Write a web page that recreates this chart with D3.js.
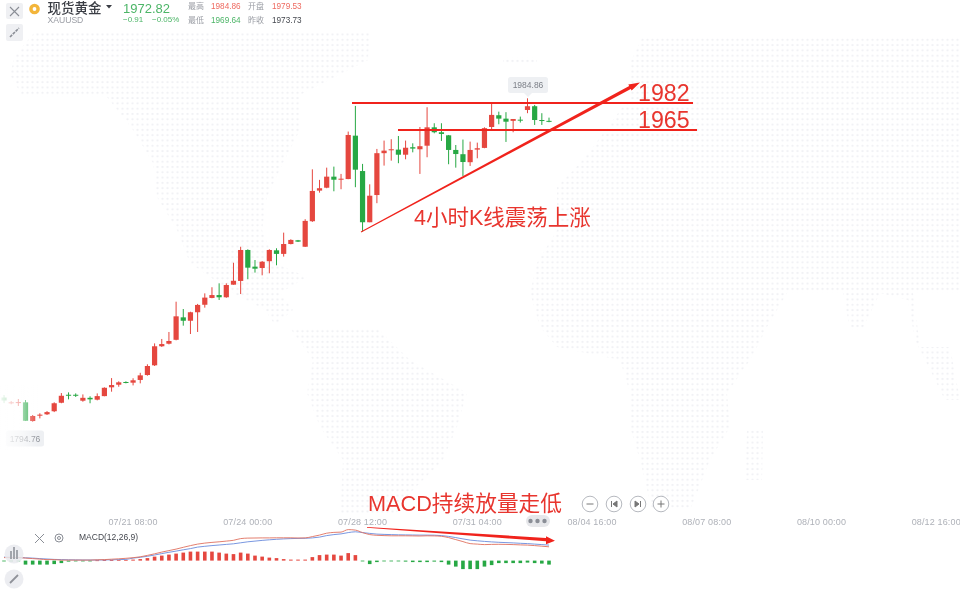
<!DOCTYPE html>
<html><head><meta charset="utf-8">
<style>
html,body{margin:0;padding:0;background:#fff;overflow:hidden}
svg{display:block;filter:blur(0.35px)}
text{font-family:"Liberation Sans","Noto Sans CJK SC",sans-serif}
</style>
<script src="https://cdn.jsdelivr.net/npm/d3@7"></script>
</head><body>
<svg id="c" width="960" height="589"></svg>
<script>
const opens=[1808.97,1805.7,1805.7,1806.15,1795.15,1798.3,1799.1,1800.9,1805.9,1810.6,1810.6,1807.1,1808.8,1807.7,1809.8,1814.97,1816.5,1818.1,1817.7,1819.3,1822.2,1827.9,1839.1,1840.6,1842.9,1856.1,1854.1,1859.1,1863.5,1867.5,1869.2,1867.9,1875.3,1877.5,1895.7,1885.9,1885.1,1889.1,1895.5,1893.4,1899.2,1901.4,1897.6,1912.6,1930.6,1932.3,1938.8,1937.3,1937.4,1962.9,1942.1,1912.0,1928.0,1952.6,1954.3,1954.7,1951.7,1956.1,1954.9,1957.0,1967.8,1964.9,1963.1,1954.5,1952.0,1947.3,1954.7,1955.7,1968.0,1974.9,1972.9,1971.6,1972.3,1978.0,1980.2,1972.1,1971.6];
const closes=[1807.2,1806.15,1806.3,1795.3,1798.1,1798.9,1800.4,1805.6,1810.0,1810.3,1810.0,1808.8,1807.9,1809.8,1814.7,1816.3,1817.9,1817.7,1819.1,1822.0,1827.5,1839.1,1840.4,1842.2,1856.7,1854.1,1859.1,1863.4,1867.7,1869.2,1867.9,1875.1,1877.6,1895.7,1885.3,1884.7,1888.8,1895.7,1893.4,1899.2,1901.6,1900.6,1912.8,1930.4,1932.0,1938.8,1937.0,1937.6,1963.3,1942.9,1912.0,1927.6,1952.6,1954.1,1954.9,1951.7,1955.8,1955.3,1956.7,1967.8,1964.9,1963.9,1954.5,1952.1,1947.4,1954.5,1955.5,1967.3,1975.1,1972.9,1971.1,1972.7,1971.9,1980.2,1972.1,1971.7,1971.4];
const highs=[1810.4,1806.9,1808.1,1807.5,1798.7,1799.7,1801.0,1806.15,1811.6,1812.0,1811.4,1810.8,1809.7,1811.4,1814.97,1820.4,1818.5,1818.5,1820.3,1823.5,1828.5,1840.8,1843.4,1847.5,1865.3,1861.0,1859.4,1864.0,1870.2,1873.8,1876.1,1876.1,1888.2,1897.6,1896.1,1889.8,1889.2,1896.1,1896.7,1905.9,1902.0,1901.6,1913.8,1943.1,1936.9,1944.1,1944.7,1940.4,1965.3,1980.4,1946.3,1934.3,1955.1,1960.0,1960.8,1962.7,1960.0,1958.4,1968.0,1979.6,1970.2,1970.2,1963.3,1957.4,1960.6,1959.4,1958.8,1967.8,1981.96,1977.0,1976.7,1972.7,1974.1,1984.86,1980.96,1976.1,1973.5];
const lows=[1805.7,1805.0,1804.0,1795.15,1794.76,1796.7,1798.7,1800.4,1805.6,1807.9,1809.3,1806.5,1805.6,1807.3,1809.7,1812.4,1815.3,1817.3,1816.1,1817.3,1821.8,1827.5,1838.7,1840.2,1842.6,1851.2,1846.3,1847.5,1861.8,1867.3,1866.3,1867.6,1875.3,1869.8,1878.5,1882.4,1880.8,1882.0,1886.7,1891.8,1899.0,1900.4,1897.5,1912.2,1929.4,1932.0,1930.2,1931.4,1937.3,1932.6,1906.5,1912.0,1923.2,1945.3,1948.2,1946.7,1949.0,1953.1,1940.4,1950.2,1964.3,1959.8,1946.1,1944.1,1939.2,1945.1,1949.6,1955.5,1965.7,1969.6,1959.2,1964.9,1970.6,1976.1,1969.2,1969.2,1970.8];
const macdLine=[3,3,3,2.5,2,1.5,1,1,0.5,0.5,0.5,0.5,0.5,0.8,1,1.4,1.8,2.3,2.9,3.8,5.2,6.8,8.5,10,11.5,13.3,15,16.5,17.5,18.2,18.8,19.5,20.3,22,22.5,22.6,22.7,22.7,22.8,22.8,22.8,22.6,22.7,24,25.5,27.4,28.2,28.5,31,30.5,28,26,25.3,25,24.8,24.8,24.8,24.7,24.6,24.8,24.7,24.3,23,21,19,17,16.5,16,16.2,16.3,16.2,16,15.7,15.5,15,14.4,13.8];
const signalLine=[3.5,3.3,3,2.8,2.5,2,1.6,1.2,1,0.8,0.7,0.6,0.6,0.6,0.7,0.8,1,1.2,2.5,3.3,4.3,5.6,7,8.3,9.5,10.8,12,13.5,14.3,15,15.6,16.2,16.8,17.8,18.8,19.5,20.2,20.8,21.3,21.7,22,22.2,22.3,22.7,23.5,25,26,26.7,28,28.8,28,27.2,26.5,26.2,26,25.8,25.7,25.6,25.5,25.5,25.4,25,24.2,23,21.7,20.5,19.8,19.2,18.7,18.3,18,17.7,17.3,17,16.5,16,15.5];
const histogram=[-0.5,-0.5,-0.5,-4,-4,-4,-4,-3.5,-2.5,-1,-0.4,-0.3,-0.3,0.3,0.5,0.5,0.7,0.7,1,1.5,2.5,4,5,6,7,8,9,9,9,9,8,7,6.5,8,7,5,4,3,2.5,1.5,1,1,1,3.5,5.5,6,6,5,7.5,5.5,-0.5,-3.5,-1.5,-0.7,-0.7,-0.7,-1,-1.5,-1.5,-1.5,-1,-1.5,-4,-6,-8.5,-8.5,-8.5,-6,-4.5,-2.5,-2.5,-2.5,-2.5,-2,-2.5,-3,-4];
const axisLabels=["07/21 08:00","07/24 00:00","07/28 12:00","07/31 04:00","08/04 16:00","08/07 08:00","08/10 00:00","08/12 16:00"];
const axisSlots=[18,34,50,66,82,98,114,130];
const headerTitle="现货黄金", headerSymbol="XAUUSD", lastPrice="1972.82", change="−0.91", changePct="−0.05%";
const statLabels=["最高","开盘","最低","昨收"], statValues=["1984.86","1979.53","1969.64","1973.73"];
const levelLabels=[1982,1965];

const UP="#e5473f", DOWN="#27a844";
const svg=d3.select("#c");
const x=d3.scaleLinear().domain([0,76]).range([4,549]);
const y=d3.scaleLinear().domain([1794.76,1984.86]).range([421.7,98.3]);
const ym=d3.scaleLinear().domain([0,31]).range([560.6,529.6]);

// dotted world map background
const defs=svg.append("defs");
const pat=defs.append("pattern").attr("id","dots").attr("width",5).attr("height",5.3).attr("patternUnits","userSpaceOnUse");
pat.append("circle").attr("cx",2.5).attr("cy",2.6).attr("r",1.15).attr("fill","#f1f2f5");
const grad=defs.append("linearGradient").attr("id","fade");
grad.append("stop").attr("offset",0).attr("stop-color","#fff").attr("stop-opacity",.92);
grad.append("stop").attr("offset",.6).attr("stop-color","#fff").attr("stop-opacity",.55);
grad.append("stop").attr("offset",1).attr("stop-color","#fff").attr("stop-opacity",0);
const mapShapes=[
 // North America
 [[15,55],[35,32],[370,32],[368,60],[300,95],[300,130],[283,163],[267,197],[262,230],[275,263],[307,277],[280,293],[293,310],[275,325],[265,310],[233,293],[190,263],[177,230],[157,197],[153,163],[133,130],[107,97],[50,97],[23,97],[10,75]],
 // South America
 [[290,328],[377,328],[410,360],[467,393],[457,427],[443,460],[410,493],[395,515],[340,515],[343,460],[320,427],[307,393],[313,360]],
 // Iceland
 [[503,57],[537,57],[537,64],[503,64]],
 // Eurasia and Africa
 [[643,36],[960,36],[960,293],[913,293],[920,347],[950,347],[960,400],[945,400],[915,340],[908,300],[880,293],[862,330],[850,330],[843,293],[787,293],[767,327],[757,347],[750,360],[727,393],[730,427],[710,460],[697,493],[690,510],[652,510],[640,460],[630,427],[630,393],[620,360],[557,347],[540,327],[530,293],[537,263],[557,230],[557,187],[580,163],[593,147],[630,97],[630,63]],
 // Madagascar
 [[747,430],[763,430],[762,480],[745,480]]
];
svg.append("g").selectAll("path").data(mapShapes).join("path")
 .attr("d",d=>d3.line()(d)+"Z").attr("fill","url(#dots)");

// candles
const g=svg.append("g");
const idx=d3.range(opens.length);
g.selectAll("line.w").data(idx).join("line").attr("class","w")
 .attr("x1",i=>x(i)).attr("x2",i=>x(i)).attr("y1",i=>y(highs[i])).attr("y2",i=>y(lows[i]))
 .attr("stroke",i=>closes[i]>=opens[i]?UP:DOWN).attr("stroke-width",1);
g.selectAll("rect.b").data(idx).join("rect").attr("class","b")
 .attr("x",i=>x(i)-2.6).attr("width",5.2)
 .attr("y",i=>y(Math.max(opens[i],closes[i])))
 .attr("height",i=>Math.max(1,Math.abs(y(opens[i])-y(closes[i]))))
 .attr("fill",i=>closes[i]>=opens[i]?UP:DOWN);

// MACD
const m=svg.append("g");
m.selectAll("rect").data(idx).join("rect")
 .attr("x",i=>x(i)-1.8).attr("width",3.6)
 .attr("y",i=>Math.min(ym(0),ym(histogram[i])))
 .attr("height",i=>Math.max(.8,Math.abs(ym(histogram[i])-ym(0))))
 .attr("fill",i=>histogram[i]>=0?UP:DOWN);
const ln=a=>d3.line().x((d,i)=>x(i)).y(d=>ym(d)).curve(d3.curveMonotoneX)(a);
m.append("path").attr("d",ln(signalLine)).attr("fill","none").attr("stroke","#6a8bdc").attr("stroke-width",.9);
m.append("path").attr("d",ln(macdLine)).attr("fill","none").attr("stroke","#e0705f").attr("stroke-width",.9);

// time axis
svg.append("g").selectAll("text").data(axisLabels).join("text")
 .attr("x",(d,i)=>x(axisSlots[i])).attr("y",525).attr("text-anchor","middle")
 .attr("font-size",9).attr("letter-spacing",.15).attr("fill","#aeb1b8").text(d=>d);

// high/low tags
function tag(cx,cy,w,t,col){
 svg.append("rect").attr("x",cx-w/2).attr("y",cy-8).attr("width",w).attr("height",16).attr("rx",2.5).attr("fill","#eef0f3");
 svg.append("text").attr("x",cx).attr("y",cy+3).attr("text-anchor","middle").attr("font-size",8.5).attr("fill",col).text(t);
}
tag(528,85,40,"1984.86","#7d8088");
svg.append("path").attr("d","M524,93h8l-4,4z").attr("fill","#eef0f3");
tag(25,438.5,38,"1794.76","#8f9299");

// left fade over the oldest candles
svg.append("rect").attr("x",0).attr("y",385).attr("width",38).attr("height",65).attr("fill","url(#fade)");

// annotations
const RED="#f0231c", TXT="#e8352e";
const levelY=d3.scaleLinear().domain([1965,1982]).range([130,103]);
svg.append("line").attr("x1",352).attr("x2",693).attr("y1",levelY(1982)).attr("y2",levelY(1982)).attr("stroke",RED).attr("stroke-width",1.9);
svg.append("line").attr("x1",398).attr("x2",697).attr("y1",levelY(1965)).attr("y2",levelY(1965)).attr("stroke",RED).attr("stroke-width",1.9);
svg.selectAll("text.lv").data(levelLabels).join("text").attr("class","lv")
 .attr("x",638).attr("y",d=>levelY(d)-2).attr("font-size",23.2).attr("fill",TXT).text(d=>d);
svg.append("path").attr("d","M360.8,231.6L629.2,86L628.3,84.4L640,82.5L631.7,90.6L630.8,89L361.2,232.6Z").attr("fill",RED);
svg.append("text").attr("x",414).attr("y",224.5).attr("font-size",21.5).attr("fill",TXT).text("4小时K线震荡上涨");
svg.append("text").attr("x",368).attr("y",510.5).attr("font-size",21.7).attr("fill",TXT).text("MACD持续放量走低");
svg.append("path").attr("d","M367,527L546,537.9L546,536.2L555,540.7L546,544.2L546,541.2L367,527.8Z").attr("fill",RED);

// header
svg.append("rect").attr("x",6).attr("y",3).attr("width",17).attr("height",16).attr("rx",2).attr("fill","#eff0f3");
svg.append("path").attr("d","M10,7L19,16M19,7L10,16").attr("stroke","#8a8e96").attr("stroke-width",1.1);
svg.append("rect").attr("x",6).attr("y",24).attr("width",17).attr("height",17).attr("rx",2).attr("fill","#eff0f3");
svg.append("path").attr("d","M10,37L19,28").attr("stroke","#8a8e96").attr("stroke-width",1.6).attr("stroke-dasharray","3 1");
svg.append("circle").attr("cx",34.5).attr("cy",9).attr("r",5.3).attr("fill","#f3b53a");
svg.append("circle").attr("cx",34.5).attr("cy",9).attr("r",1.9).attr("fill","#fff");
svg.append("text").attr("x",47.5).attr("y",13).attr("font-size",13.5).attr("font-weight",500).attr("fill","#3a3d44").text(headerTitle);
svg.append("path").attr("d","M106,5h6l-3,3.5z").attr("fill","#3a3d44");
svg.append("text").attr("x",47.5).attr("y",23).attr("font-size",8.6).attr("fill","#9a9da4").text(headerSymbol);
svg.append("text").attr("x",123).attr("y",12.5).attr("font-size",13).attr("fill","#4cb567").text(lastPrice);
svg.append("text").attr("x",123).attr("y",22).attr("font-size",8).attr("fill","#4cb567").text(change);
svg.append("text").attr("x",152).attr("y",22).attr("font-size",8).attr("fill","#4cb567").text(changePct);
const statPos=[[188,211,8.5,"#ee6a60"],[248,272,8.5,"#ee6a60"],[188,211,22.5,"#4cb567"],[248,272,22.5,"#45484f"]];
statLabels.forEach((l,i)=>{const p=statPos[i];
 svg.append("text").attr("x",p[0]).attr("y",p[2]).attr("font-size",8).attr("fill","#9a9da4").text(l);
 svg.append("text").attr("x",p[1]).attr("y",p[2]).attr("font-size",8.2).attr("fill",p[3]).text(statValues[i]);
});

// macd header & controls
svg.append("path").attr("d","M35,534L44,543M44,534L35,543").attr("stroke","#8a8e96").attr("stroke-width",1);
svg.append("circle").attr("cx",59).attr("cy",538).attr("r",4).attr("fill","none").attr("stroke","#8a8e96");
svg.append("circle").attr("cx",59).attr("cy",538).attr("r",1.5).attr("fill","none").attr("stroke","#8a8e96");
svg.append("text").attr("x",79).attr("y",540).attr("font-size",8.5).attr("fill","#45484f").text("MACD(12,26,9)");
[[14,554],[14,579]].forEach(p=>svg.append("circle").attr("cx",p[0]).attr("cy",p[1]).attr("r",9.5).attr("fill","#e9eaee").attr("opacity",.85));
svg.append("path").attr("d","M10,583L18,575").attr("stroke","#8f9299").attr("stroke-width",1.8);
svg.append("path").attr("d","M11,551v8M14,547v12M17,550v9").attr("stroke","#a2a5ac").attr("stroke-width",2);
const btnIcons=["M586.5,504h7","M611.5,501v6M617,501v6l-4,-3z","M640.5,501v6M635,501v6l4,-3z","M657.5,504h7M661,500.5v7"];
[590,614,638,661].forEach((cx,i)=>{
 svg.append("circle").attr("cx",cx).attr("cy",504).attr("r",7.8).attr("fill","#fff").attr("stroke","#aeb1b8").attr("stroke-width",.9);
 svg.append("path").attr("d",btnIcons[i]).attr("fill",i==1||i==2?"#777":"none").attr("stroke","#777").attr("stroke-width",1);
});
svg.append("rect").attr("x",526).attr("y",515).attr("width",24).attr("height",12).attr("rx",6).attr("fill","#e6e7ea");
[530.5,537.5,544.5].forEach(cx=>svg.append("circle").attr("cx",cx).attr("cy",521).attr("r",2.2).attr("fill","#8a8e96"));
</script>
</body></html>
